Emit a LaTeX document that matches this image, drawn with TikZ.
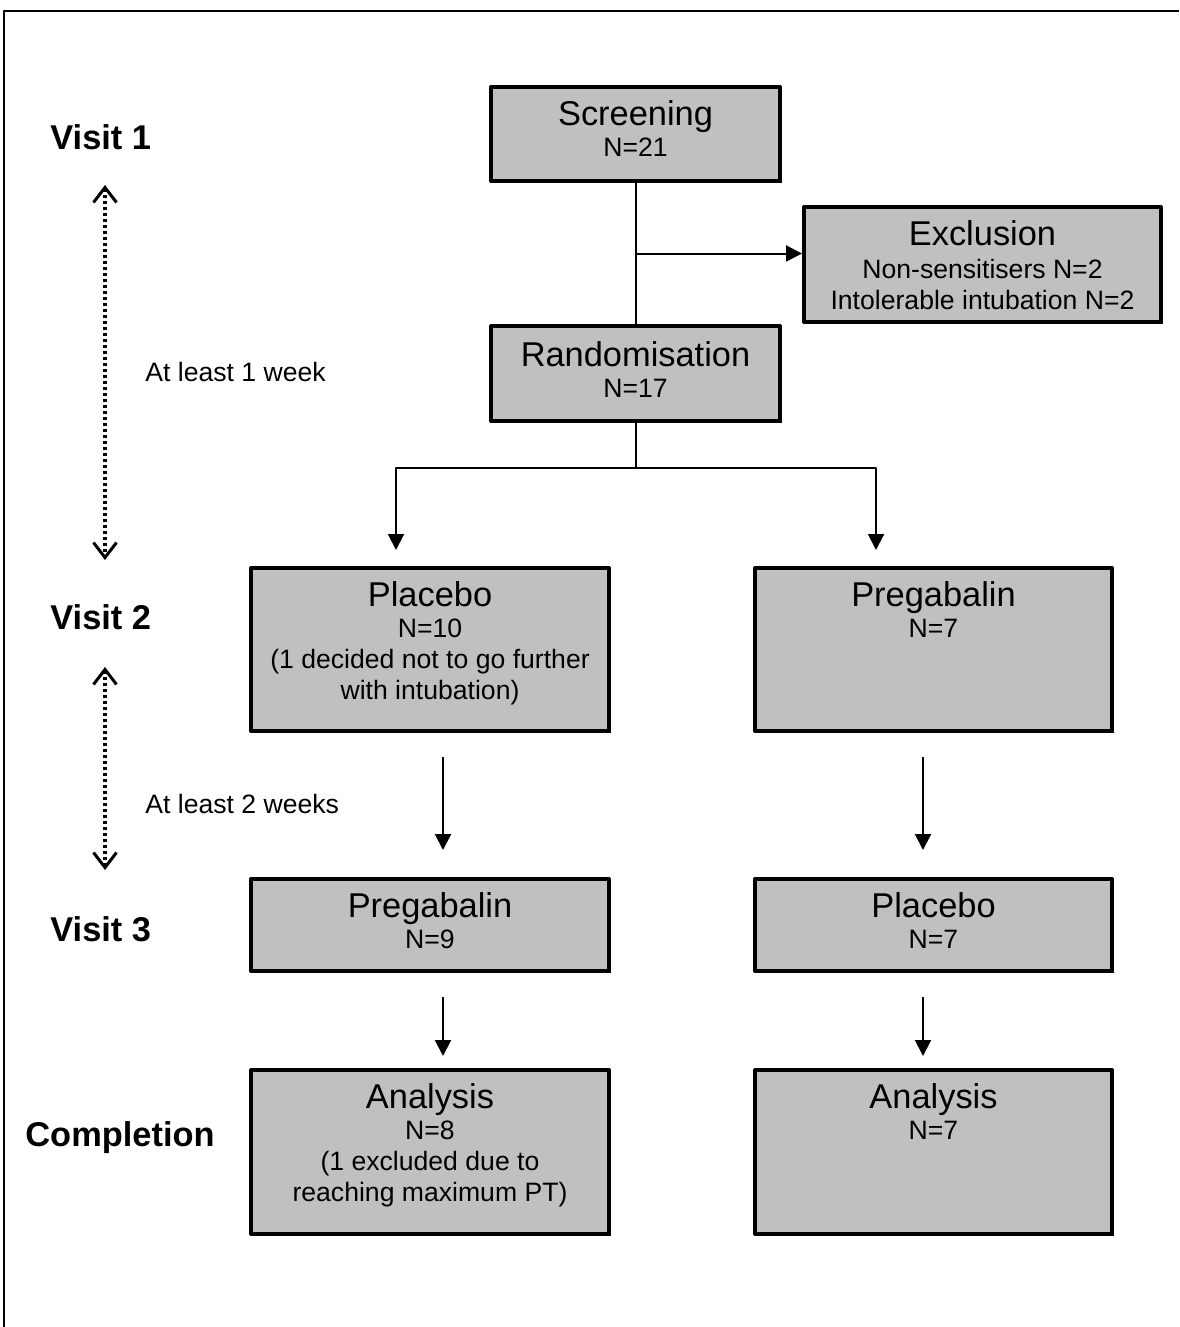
\documentclass[tikz,border=0pt]{standalone}
\usepackage{fontspec}
\setmainfont{Liberation Sans}
\usetikzlibrary{arrows.meta,shadows,positioning}
\definecolor{boxgray}{HTML}{C0C0C0}
\newcommand{\ttl}[1]{{\fontsize{17.2}{20}\selectfont #1}}
\tikzset{
  box/.style={draw, line width=2pt, fill=boxgray, inner sep=0pt,
    drop shadow={shadow xshift=.8pt,shadow yshift=-.8pt,fill=black,opacity=1}},
  boxtxt/.style={anchor=north, align=center, inner sep=0pt, font=\fontsize{13.3}{15.5}\selectfont},
  stage/.style={anchor=west, inner sep=0pt, font=\fontsize{17.2}{20}\selectfont\bfseries},
  gaptxt/.style={anchor=west, inner sep=0pt, font=\fontsize{13.3}{15.5}\selectfont},
  arr/.style={-{Triangle[length=8pt,width=8pt]}, line width=1pt},
  barb/.tip={Straight Barb[length=7.5pt,width=11.5pt,line width=1.5pt]},
  wait/.style={barb-barb, line width=2pt, dash pattern=on 1.5pt off 1.5pt},
}
\begin{document}
\begin{tikzpicture}[x=.5pt, y=-.5pt, line join=round]
\useasboundingbox (0,0) rectangle (1179,1327);
% frame
\draw[line width=1pt] (4,1327) -- (4,11) -- (1179,11);
% boxes
\node[box, minimum width=144.5pt, minimum height=47pt] (scr) at (635.5,134) {};
\node[box, minimum width=144.5pt, minimum height=47.5pt] (rnd) at (635.5,373.5) {};
\node[box, minimum width=178.5pt, minimum height=57.5pt] (exc) at (982.5,264.5) {};
\node[box, minimum width=179pt, minimum height=81.5pt] (pboA) at (430,649.5) {};
\node[box, minimum width=178.5pt, minimum height=81.5pt] (pgbA) at (933.5,649.5) {};
\node[box, minimum width=179pt, minimum height=46pt] (pgbB) at (430,925) {};
\node[box, minimum width=178.5pt, minimum height=46pt] (pboB) at (933.5,925) {};
\node[box, minimum width=179pt, minimum height=82pt] (anaL) at (430,1152) {};
\node[box, minimum width=178.5pt, minimum height=82pt] (anaR) at (933.5,1152) {};
% box texts
\node[boxtxt] (scrT) at ([yshift=-7.5pt]scr.north) {\ttl{Screening}\\N=21};
\node[boxtxt] (rndT) at ([yshift=-8.5pt]rnd.north) {\ttl{Randomisation}\\N=17};
\node[boxtxt] (excT) at ([yshift=-7.5pt]exc.north) {\ttl{Exclusion}\\[1pt]Non-sensitisers N=2\\Intolerable intubation N=2};
\node[boxtxt] (pboAT) at ([yshift=-7.5pt]pboA.north) {\ttl{Placebo}\\N=10\\(1 decided not to go further\\with intubation)};
\node[boxtxt] (pgbAT) at ([yshift=-7.5pt]pgbA.north) {\ttl{Pregabalin}\\N=7};
\node[boxtxt] (pgbBT) at ([yshift=-7.5pt]pgbB.north) {\ttl{Pregabalin}\\N=9};
\node[boxtxt] (pboBT) at ([yshift=-7.5pt]pboB.north) {\ttl{Placebo}\\N=7};
\node[boxtxt] (anaLT) at ([yshift=-7.5pt]anaL.north) {\ttl{Analysis}\\N=8\\(1 excluded due to\\reaching maximum PT)};
\node[boxtxt] (anaRT) at ([yshift=-7.5pt]anaR.north) {\ttl{Analysis}\\N=7};
% stages
\node[stage] (v1) at (50,137) {Visit 1};
\node[stage] (v2) at (50,617) {Visit 2};
\node[stage] (v3) at (50,929) {Visit 3};
\node[stage] (cmp) at (25,1138) {Completion};
\node[gaptxt] (g1) at (145,372) {At least 1 week};
\node[gaptxt] (g2) at (145,804) {At least 2 weeks};
% time spans
\coordinate (w1a) at (105,185); \coordinate (w1b) at (105,560);
\coordinate (w2a) at (105,667); \coordinate (w2b) at (105,870);
\draw[wait] (w1a) -- (w1b);
\draw[wait] (w2a) -- (w2b);
% flow
\coordinate (exin) at ([yshift=5.5pt]exc.west);
\draw[line width=1pt] (scr) -- (rnd);
\draw[arr] (scr.south |- exin) -- (exin);
\coordinate (split) at (635.5,468);
\coordinate (armL) at (396,550);
\coordinate (armR) at (876,550);
\draw[line width=1pt] (rnd) -- (split);
\draw[arr] (split) -| (armL);
\draw[arr] (split) -| (armR);
\draw[arr] ([xshift=6.5pt,yshift=-12pt]pboA.south) -- ([xshift=6.5pt,yshift=13.5pt]pgbB.north);
\draw[arr] ([xshift=-5.25pt,yshift=-12pt]pgbA.south) -- ([xshift=-5.25pt,yshift=13.5pt]pboB.north);
\draw[arr] ([xshift=6.5pt,yshift=-12pt]pgbB.south) -- ([xshift=6.5pt,yshift=6pt]anaL.north);
\draw[arr] ([xshift=-5.25pt,yshift=-12pt]pboB.south) -- ([xshift=-5.25pt,yshift=6pt]anaR.north);
\end{tikzpicture}
\end{document}
